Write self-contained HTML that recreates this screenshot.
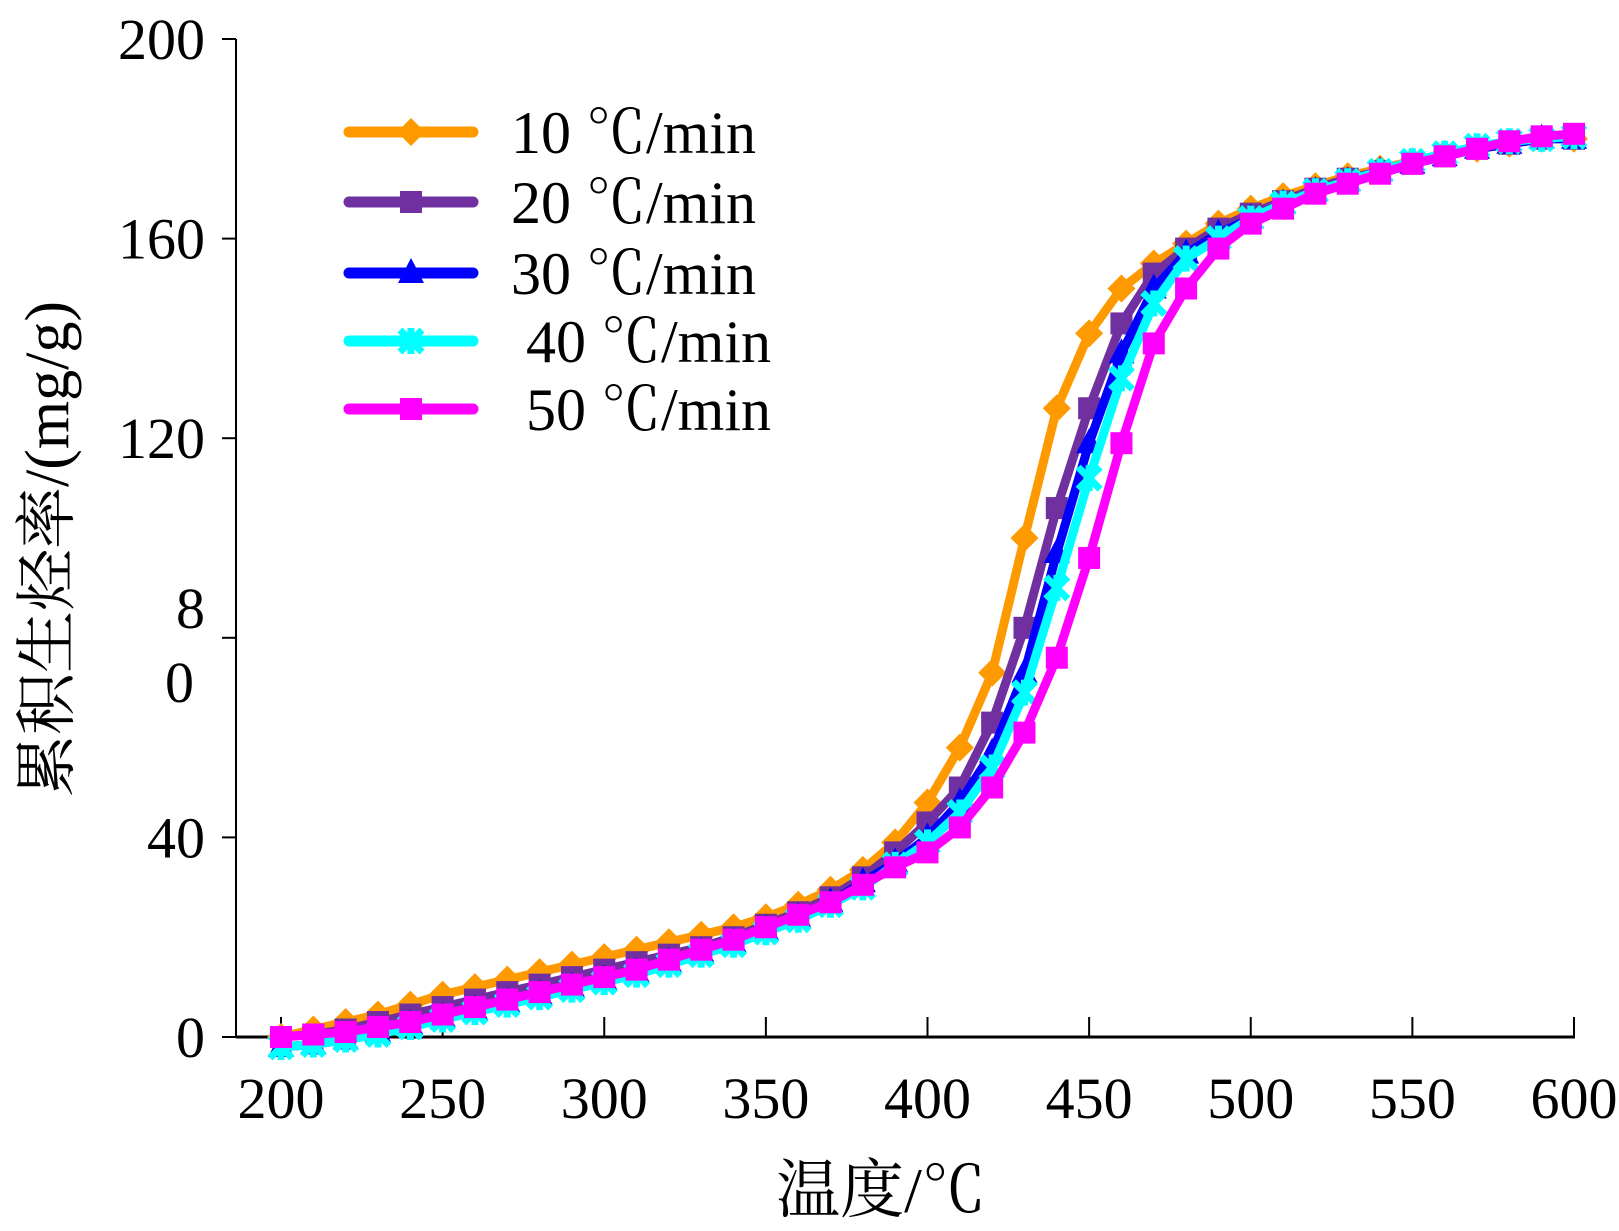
<!DOCTYPE html>
<html><head><meta charset="utf-8"><style>
html,body{margin:0;padding:0;background:#fff;}
svg{display:block;font-family:"Liberation Serif","Noto Serif CJK SC",serif;}
</style></head><body>
<svg id="chart" width="1619" height="1231" viewBox="0 0 1619 1231">
<g id="axes"></g>
<g id="series"></g>
<g id="legend"></g>
<text x="881" y="1212" font-size="64" text-anchor="middle">温度/℃</text>
<text transform="translate(68,549) rotate(-90)" font-size="62" text-anchor="middle">累积生烃率/(mg/g)</text>
</svg>
<script>
const temps = [200,210,220,230,240,250,260,270,280,290,300,310,320,330,340,350,360,370,380,390,400,410,420,430,440,450,460,470,480,490,500,510,520,530,540,550,560,570,580,590,600];
const rate10 = [0,1.5,3,4.5,6.5,8.5,10,11.5,13,14.5,16,17.5,19,20.5,22,24,26.5,29.5,33.5,39,47,58,73,100,126,141,150,155,159,163,166,168.5,170.5,172.5,174,175.5,177,178,179,180,180];
const rate20 = [0,0.5,1.5,3,4.5,6,7.5,9,10.5,12,13.5,15,16.5,18,20,22.5,25,28,32,37,43,50,63,82,106,126,143,153,158,162,165,167.5,170,172,173.5,175,176.5,178,179,180,180];
const rate30 = [-2,-1.5,-0.5,1,2.5,4,5.5,7,8.5,10,11.5,13,15,17,19,21.5,24,27,31,35,40,47,57,73,97,119,137,150,157,161,164,167,169.5,171.5,173.5,175,176.5,178,179,180,180];
const rate40 = [-2,-1.5,-0.5,0.5,2,3.5,5,6.5,8,9.5,11,12.5,14.5,16.5,18.5,21,23.5,26.5,30,34.5,39,45,54,69,90,112,132,147,156,160,164,167,169.5,171.5,173.5,175.5,177,178.5,179.5,180,180.5];
const rate50 = [0,0.5,1,2,3,4.5,6,7.5,9,10.5,12,13.5,15.5,17.5,19.5,22,24.5,27,30.5,34,37,42,50,61,76,96,119,139,150,158,163,166,169,171,173,175,176.5,178,179.5,180.5,181];
const seriesNames = ["10 ℃/min","20 ℃/min","30 ℃/min"," 40 ℃/min"," 50 ℃/min"];
const xTicks = [200,250,300,350,400,450,500,550,600];
const yTicks = [0,40,80,120,160,200];

const NS="http://www.w3.org/2000/svg";
const X0=281,X1=1574,Y0=1037,Y1=39;
function sx(t){return X0+(t-200)/(600-200)*(X1-X0);}
function sy(v){return Y0-(v-0)/(200-0)*(Y0-Y1);}
function mk(tag,attrs,parent){const e=document.createElementNS(NS,tag);for(const k in attrs)e.setAttribute(k,attrs[k]);parent.appendChild(e);return e;}

const axes=document.getElementById('axes');
let a=mk('line',{x1:236,y1:Y1,x2:236,y2:Y0,stroke:'#000','stroke-width':2},axes);


a=mk('line',{x1:236,y1:Y0,x2:X1+1,y2:Y0,stroke:'#000','stroke-width':3},axes);


xTicks.forEach(t=>{
  const l=mk('line',{x1:sx(t),y1:Y0,x2:sx(t),y2:Y0-20,stroke:'#000','stroke-width':2},axes);
  
  
  const tx=mk('text',{x:sx(t),y:1118,'font-size':58,'text-anchor':'middle'},axes);
  tx.textContent=t;
  
  
});
yTicks.forEach(v=>{
  const l=mk('line',{x1:222,y1:sy(v),x2:236,y2:sy(v),stroke:'#000','stroke-width':2},axes);
  
  
  if(v===80){
    let t1=mk('text',{x:205,y:sy(v)-10,'font-size':58,'text-anchor':'end'},axes);t1.textContent='8';
    
    
    let t2=mk('text',{x:194,y:sy(v)+64,'font-size':58,'text-anchor':'end'},axes);t2.textContent='0';
    
    
  } else {
    const tx=mk('text',{x:205,y:sy(v)+20,'font-size':58,'text-anchor':'end'},axes);
    tx.textContent=v;
    
    
  }
});

const colors=['#ff9900','#7030a0','#0000ff','#00ffff','#ff00ff'];
const shapes=['diamond','square','triangle','star','square'];
const allData=[rate10,rate20,rate30,rate40,rate50];
function marker(shape,x,y,c,g){
  let e;
  if(shape==='diamond') e=mk('polygon',{points:`${x},${y-14} ${x+14},${y} ${x},${y+14} ${x-14},${y}`,fill:c},g);
  else if(shape==='square') e=mk('rect',{x:x-11,y:y-11,width:22,height:22,fill:c},g);
  else if(shape==='triangle') e=mk('polygon',{points:`${x},${y-15} ${x+13},${y+10} ${x-13},${y+10}`,fill:c},g);
  else { e=mk('g',{},g);
    mk('line',{x1:x-11,y1:y-11,x2:x+11,y2:y+11,stroke:c,'stroke-width':7},e);
    mk('line',{x1:x-11,y1:y+11,x2:x+11,y2:y-11,stroke:c,'stroke-width':7},e);
    mk('line',{x1:x,y1:y-13,x2:x,y2:y+13,stroke:c,'stroke-width':7},e);}
  return e;
}
const sg=document.getElementById('series');
allData.forEach((d,i)=>{
  const g=mk('g',{},sg);
  
  
  const pts=d.map((v,j)=>sx(temps[j])+','+sy(v)).join(' ');
  const pl=mk('polyline',{points:pts,fill:'none',stroke:colors[i],'stroke-width':9,'stroke-linejoin':'round'},g);
  
  
  d.forEach((v,j)=>{
    const m=marker(shapes[i],sx(temps[j]),sy(v),colors[i],g);
    
    
  });
});

const lg=document.getElementById('legend');
const ly=[132,202,273,341,409];
seriesNames.forEach((n,i)=>{
  const g=mk('g',{},lg);
  
  
  mk('line',{x1:349,y1:ly[i],x2:473,y2:ly[i],stroke:colors[i],'stroke-width':11,'stroke-linecap':'round'},g);
  marker(shapes[i],411,ly[i],colors[i],g);
  const t=mk('text',{x:511,y:ly[i]+21,'font-size':60},g);
  t.textContent=n;
  t.style.whiteSpace='pre';
});
</script>
</body></html>
